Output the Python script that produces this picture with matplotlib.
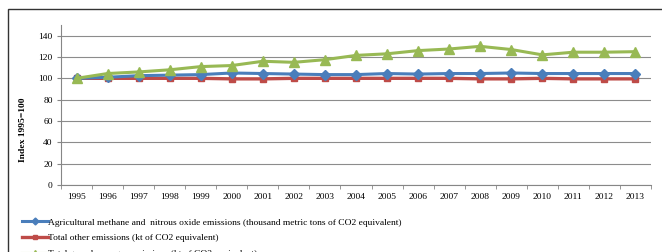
import numpy as np
import matplotlib
matplotlib.use('Agg')
from matplotlib import pyplot as plt
from matplotlib.patches import Rectangle

plt.rcParams['font.family'] = ['Liberation Serif', 'DejaVu Serif']

years = ['1995', '1996', '1997', '1998', '1999', '2000', '2001', '2002', '2003', '2004',
         '2005', '2006', '2007', '2008', '2009', '2010', '2011', '2012', '2013']
agri = [100, 101, 102.5, 103, 103.5, 105, 104.5, 104, 103.5, 103.5,
        104.5, 104, 104.5, 104.5, 105, 104.5, 104.5, 104.5, 104.5]
other = [100, 100, 100, 100, 100, 99.5, 99.5, 100, 100, 100,
         100, 100, 100, 99.5, 99.5, 100, 99.5, 99.5, 99.5]
total = [100, 104.5, 106, 108, 111, 112, 116, 115, 117.5, 121.5,
         123, 126, 127.5, 130, 127, 122, 124.5, 124.5, 125]
labels = ['Agricultural methane and  nitrous oxide emissions (thousand metric tons of CO2 equivalent)',
          'Total other emissions (kt of CO2 equivalent)',
          'Total greenhouse gas emissions (kt of CO2 equivalent)']

W, H = 662, 252
fig = plt.figure(figsize=(W / 100, H / 100), dpi=100)
ax = fig.add_axes([61 / W, 1 - 185 / H, (651 - 61) / W, (185 - 25) / H])

# outer chart frame
fig.patches.append(Rectangle((8 / W, -0.1), 1.2, 1 - 9 / H + 0.1, transform=fig.transFigure,
                             fill=False, edgecolor='#333333', linewidth=1.0))

x = np.arange(len(years))
ax.plot(x, agri, color='#4A7EBB', lw=2.2, marker='D', ms=5, label=labels[0], zorder=4)
ax.plot(x, other, color='#BE4B48', lw=2.4, marker='s', ms=5, label=labels[1], zorder=3)
ax.plot(x, total, color='#98B954', lw=2.2, marker='^', ms=7, label=labels[2], zorder=5)

ax.set_xlim(-0.5, len(years) - 0.5)
ax.set_ylim(0, 150)
ax.set_yticks(np.arange(0, 141, 20))
ax.set_xticks(x)
ax.set_xticklabels(years)
ax.set_xticks(np.arange(-0.5, len(years), 1), minor=True)
ax.tick_params(axis='x', which='major', length=0, labelsize=6.8, pad=6)
ax.tick_params(axis='x', which='minor', length=3, color='#868686', direction='out')
ax.tick_params(axis='y', length=3, color='#868686', labelsize=6.8, pad=3)
ax.yaxis.grid(True, color='#8c8c8c', lw=0.8)
ax.set_axisbelow(True)
for s in ['top', 'right']:
    ax.spines[s].set_visible(False)
for s in ['left', 'bottom']:
    ax.spines[s].set_color('#868686')
    ax.spines[s].set_linewidth(0.8)

fig.text(23 / W, 1 - 130 / H, 'Index 1995=100', rotation=90, fontsize=6.8,
         fontweight='bold', ha='center', va='center')

fig.legend(loc='upper left', bbox_to_anchor=(22 / W, 1 - 218 / H), frameon=False,
           fontsize=6.8, handlelength=2.7, handletextpad=0.0, labelspacing=0.75,
           borderpad=0, borderaxespad=0, markerscale=0.7)

fig.savefig('out.png', dpi=100)
